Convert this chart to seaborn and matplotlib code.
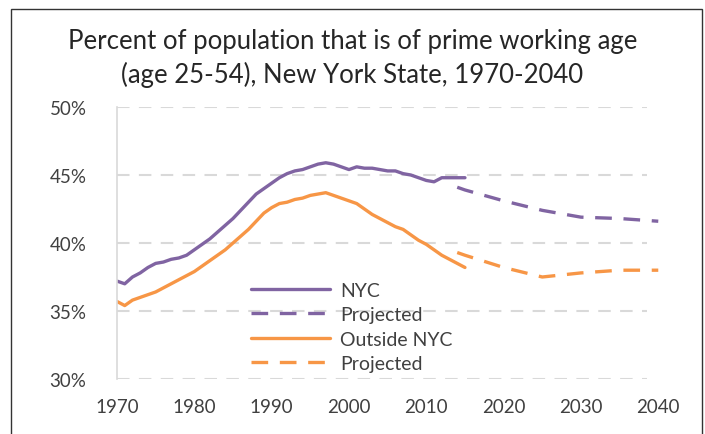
import numpy as np
import pandas as pd
import matplotlib
matplotlib.use("Agg")
import matplotlib.pyplot as plt
import seaborn as sns
from matplotlib.patches import Rectangle
from matplotlib.ticker import FuncFormatter

# Observed values (percent), 1970-2015
years_actual = list(range(1970, 2016))
nyc_actual = [37.2, 37.0, 37.5, 37.8, 38.2, 38.5, 38.6, 38.8, 38.9, 39.1,
              39.5, 39.9, 40.3, 40.8, 41.3, 41.8, 42.4, 43.0, 43.6, 44.0,
              44.4, 44.8, 45.1, 45.3, 45.4, 45.6, 45.8, 45.9, 45.8, 45.6,
              45.4, 45.6, 45.5, 45.5, 45.4, 45.3, 45.3, 45.1, 45.0, 44.8,
              44.6, 44.5, 44.8, 44.8, 44.8, 44.8]
outside_actual = [35.7, 35.4, 35.8, 36.0, 36.2, 36.4, 36.7, 37.0, 37.3, 37.6,
                  37.9, 38.3, 38.7, 39.1, 39.5, 40.0, 40.5, 41.0, 41.6, 42.2,
                  42.6, 42.9, 43.0, 43.2, 43.3, 43.5, 43.6, 43.7, 43.5, 43.3,
                  43.1, 42.9, 42.5, 42.1, 41.8, 41.5, 41.2, 41.0, 40.6, 40.2,
                  39.9, 39.5, 39.1, 38.8, 38.5, 38.2]

# Projections
years_proj = [2014, 2015, 2020, 2025, 2030, 2035, 2040]
nyc_proj = [44.1, 43.9, 43.1, 42.4, 41.9, 41.8, 41.6]
outside_proj = [39.3, 39.1, 38.2, 37.5, 37.8, 38.0, 38.0]

PURPLE = "#8064A2"
ORANGE = "#F79646"
GRID = "#D9D9D9"
TEXT = "#404040"

sns.set_theme(style="white")
plt.rcParams["font.family"] = ["Lato", "DejaVu Sans"]

fig = plt.figure(figsize=(7.05, 4.35), dpi=100)
ax = fig.add_axes([117 / 705, 1 - 380 / 435, (666 - 117) / 705, (380 - 108) / 435])

# outer frame like the exported chart
fig.patches.append(Rectangle((11 / 705, -0.05), (702 - 11) / 705, 1.05 - 10 / 435,
                             transform=fig.transFigure, fill=False,
                             edgecolor="#333333", linewidth=1.0))

df_nyc = pd.DataFrame({"year": years_actual, "pct": nyc_actual})
df_out = pd.DataFrame({"year": years_actual, "pct": outside_actual})
df_nyc_p = pd.DataFrame({"year": years_proj, "pct": nyc_proj})
df_out_p = pd.DataFrame({"year": years_proj, "pct": outside_proj})

lw = 2.4
sns.lineplot(data=df_nyc, x="year", y="pct", ax=ax, color=PURPLE, linewidth=lw, label="NYC")
sns.lineplot(data=df_nyc_p, x="year", y="pct", ax=ax, color=PURPLE, linewidth=lw,
             label="Projected", dashes=False)
sns.lineplot(data=df_out, x="year", y="pct", ax=ax, color=ORANGE, linewidth=lw, label="Outside NYC")
sns.lineplot(data=df_out_p, x="year", y="pct", ax=ax, color=ORANGE, linewidth=lw,
             label="Projected", dashes=False)
ax.lines[1].set_dashes([5, 3.5])
ax.lines[3].set_dashes([5, 3.5])

# dashed horizontal gridlines
for v in [30, 35, 40, 45, 50]:
    ax.hlines(v, 1970, 2038.6, colors=GRID, linewidth=1.5, linestyles=(0, (6, 4.5)), zorder=0)

ax.set_xlim(1970, 2041)
ax.set_ylim(30, 50)
ax.set_xticks(range(1970, 2041, 10))
ax.set_yticks([30, 35, 40, 45, 50])
ax.yaxis.set_major_formatter(FuncFormatter(lambda v, p: f"{int(v)}%"))
ax.tick_params(axis="both", labelsize=13.5, colors=TEXT, length=0)
ax.tick_params(axis="y", pad=22)
ax.tick_params(axis="x", pad=14)
ax.set_xlabel("")
ax.set_ylabel("")
for s in ["top", "right", "bottom"]:
    ax.spines[s].set_visible(False)
ax.spines["left"].set_color(GRID)
ax.spines["left"].set_linewidth(1.2)
ax.patch.set_alpha(0)

fig.text(0.5, 1 - 42 / 435, "Percent of population that is of prime working age",
         ha="center", va="center", fontsize=18.5, color="#262626")
fig.text(0.5, 1 - 75 / 435, "(age 25-54), New York State, 1970-2040",
         ha="center", va="center", fontsize=18.5, color="#262626")

leg = ax.legend(loc="upper left", bbox_to_anchor=(241 / 705, 1 - 273 / 435),
                bbox_transform=fig.transFigure, frameon=False, fontsize=14,
                handlelength=4.1, handletextpad=0.5, labelspacing=0.38, borderpad=0)
for t in leg.get_texts():
    t.set_color(TEXT)
for h in leg.get_lines():
    h.set_linewidth(lw)

fig.savefig("out.png", dpi=100)
